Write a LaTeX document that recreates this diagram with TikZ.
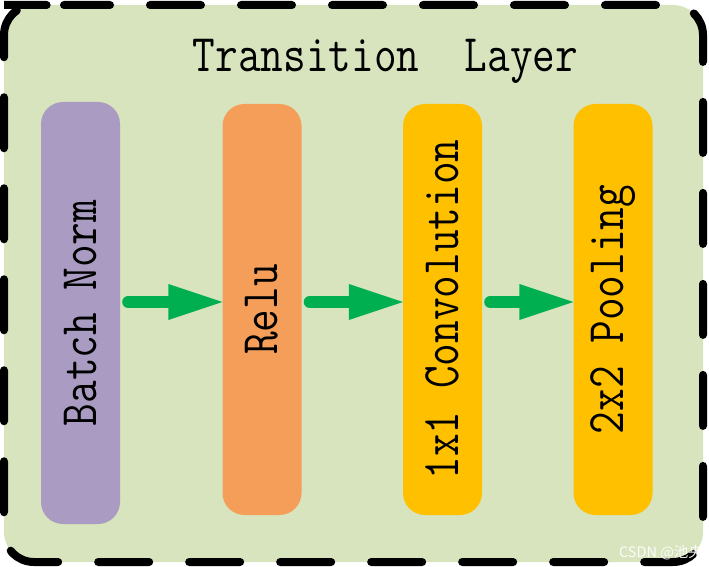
\documentclass[tikz,border=0pt]{standalone}
\usepackage{fontspec}
\usepackage{graphicx}
\newfontfamily\cjkfont{Noto Sans CJK SC}
\usetikzlibrary{arrows.meta}
\definecolor{bgg}{RGB}{215,228,189}
\definecolor{purp}{RGB}{169,155,193}
\definecolor{orng}{RGB}{245,158,90}
\definecolor{yel}{RGB}{255,192,0}
\definecolor{grn}{RGB}{0,176,80}
\newcommand\lblfont{\ttfamily\fontsize{44}{44}\selectfont}
\newcommand\rottext[1]{\rotatebox{90}{\scalebox{1}[1.2]{#1}}}
\begin{document}
\begin{tikzpicture}[x=1pt,y=-1pt,
  blk/.style={rectangle, rounded corners=22pt, minimum width=79pt, inner sep=0pt, font=\lblfont},
  arr/.style={draw=grn, line width=12pt, line cap=round,
    -{Triangle[length=54pt 0 0,width=36pt 0 0,line width=0pt 0 0]}, shorten <=8pt},
  frame/.style={draw=black, fill=bgg, line width=8pt, line cap=round, rounded corners=30pt,
    dash pattern=on 51pt off 40pt, dash phase=5pt}]
\useasboundingbox (0,0) rectangle (709,567);
\draw[frame] (34,5) -- (703,5) -- (703,562) -- (4,562) -- (4,5) -- cycle;
\node[anchor=base, font=\lblfont, inner sep=0pt] (title) at (385.5,72) {\scalebox{1}[1.2]{Transition\ \ Layer}};
\node[blk, fill=purp, minimum height=422pt] (bn) at (80.5,313) {\rottext{Batch Norm}};
\node[blk, fill=orng, minimum height=411pt] (relu) at (262,309.5) {\rottext{Relu}};
\node[blk, fill=yel, minimum height=411pt] (conv) at (442.5,309.5) {\rottext{1x1 Convolution}};
\node[blk, fill=yel, minimum height=411pt] (pool) at (613,309.5) {\rottext{2x2 Pooling}};
\coordinate (ay) at (0,302);
\draw[arr] (bn.east |- ay) -- (relu.west |- ay);
\draw[arr] (relu.east |- ay) -- (conv.west |- ay);
\draw[arr] (conv.east |- ay) -- (pool.west |- ay);
\node[font=\cjkfont\fontsize{14.5}{14.5}\selectfont, text=white, opacity=0.9, inner sep=0pt] (wm) at (661,553) {CSDN @池央};
\end{tikzpicture}
\end{document}
